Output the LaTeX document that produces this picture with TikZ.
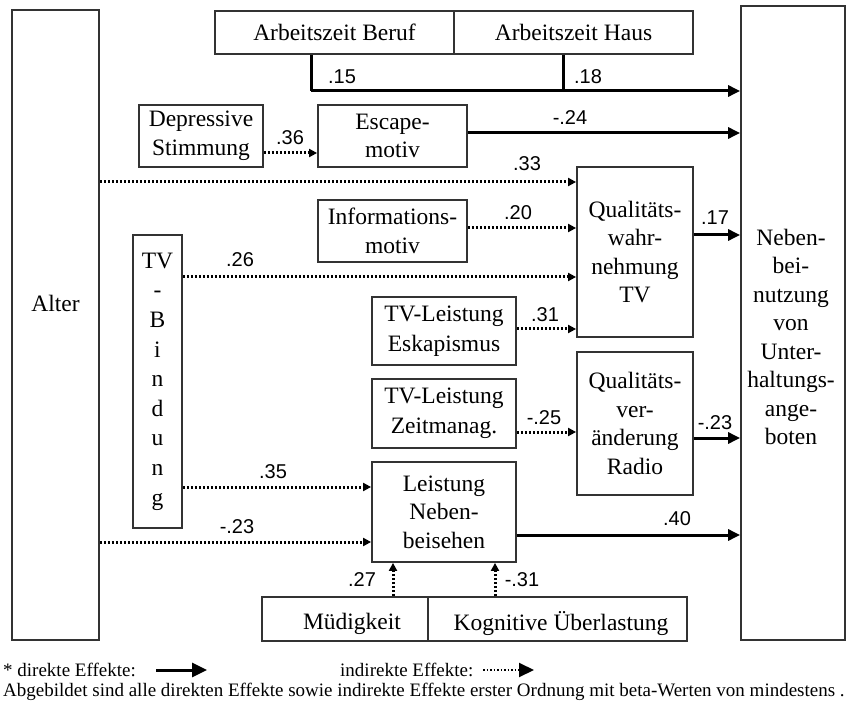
\documentclass[tikz,border=0pt]{standalone}
\usepackage{fontspec}
\setmainfont{Liberation Serif}
\newfontfamily\numfont{Liberation Sans}
\usetikzlibrary{arrows.meta}
\tikzset{
  box/.style={draw=black!80, line width=1.8pt, inner sep=0pt, align=center,
    font=\fontsize{23.5}{28.5}\selectfont},
  txt/.style={inner sep=0pt, align=center, font=\fontsize{23.5}{28.5}\selectfont},
  num/.style={inner sep=0pt, font=\numfont\fontsize{20}{22}\selectfont},
  direct/.style={line width=3pt, black, -{Triangle[length=12pt,width=11pt]}},
  thickline/.style={line width=3pt, black},
  indirect/.style={line width=3pt, black, dash pattern=on 2pt off 2pt,
    -{Triangle[length=8pt,width=8pt]}},
  legtxt/.style={inner sep=0pt, anchor=west, font=\fontsize{19}{20}\selectfont},
}
\begin{document}
\begin{tikzpicture}[x=1pt,y=-1pt]
\useasboundingbox (0,0) rectangle (846,703);
% boxes
\node[box, minimum width=87pt, minimum height=630pt] (alter) at (55.5,325) {};
\node[txt] (alterT) at (55.5,303) {Alter};
\node[box, minimum width=104pt, minimum height=634pt] (neben) at (793,323) {};
\node[txt] (nebenT) at (791,337) {Neben-\\bei-\\nutzung\\von\\Unter-\\haltungs-\\ange-\\boten};
\node[box, minimum width=239pt, minimum height=43pt] (beruf) at (334.5,32.5) {Arbeitszeit Beruf};
\node[box, minimum width=239pt, minimum height=43pt] (haus) at (573.5,32.5) {Arbeitszeit Haus};
\node[box, minimum width=124pt, minimum height=62pt] (depr) at (201,136) {Depressive\\Stimmung};
\node[box, minimum width=149pt, minimum height=62pt] (escape) at (392.5,136) {Escape-\\motiv};
\node[box, minimum width=149pt, minimum height=62pt] (info) at (392.5,231) {Informations-\\motiv};
\node[box, minimum width=116pt, minimum height=170pt] (qwtv) at (635,252) {Qualitäts-\\wahr-\\nehmung\\TV};
\node[box, minimum width=49pt, minimum height=293pt, font=\fontsize{23.5}{29.6}\selectfont] (bind) at (157.5,381.5) {TV\\-\\B\\i\\n\\d\\u\\n\\g};
\node[box, minimum width=144pt, minimum height=68pt, font=\fontsize{23.5}{30.5}\selectfont] (eska) at (444,331) {TV-Leistung\\Eskapismus};
\node[box, minimum width=144pt, minimum height=69pt, font=\fontsize{23.5}{30}\selectfont] (zeit) at (444,413.5) {TV-Leistung\\Zeitmanag.};
\node[box, minimum width=116pt, minimum height=143pt] (qvr) at (635,423.5) {Qualitäts-\\ver-\\änderung\\Radio};
\node[box, minimum width=144pt, minimum height=100pt] (nebs) at (444,512) {Leistung\\Neben-\\beisehen};
\node[box, minimum width=166pt, minimum height=44pt] (muede) at (345,619) {};
\node[txt] (muedeT) at (352,624) {Müdigkeit};
\node[box, minimum width=259pt, minimum height=44pt] (kogn) at (557.5,619) {};
\node[txt] (kognT) at (561,624) {Kognitive Überlastung};
% junctions
\coordinate (jb) at (311,91);
\coordinate (jh) at (563,91);
% connectors
\draw[thickline] (beruf.south -| jb) -- (jb);
\draw[direct] (jb) -- (jb -| neben.west);
\draw[thickline] (haus.south -| jh) -- (jh);
\draw[indirect] (depr.east |- 0,153) -- (escape.west |- 0,153);
\draw[direct] (escape.east |- 0,133) -- (neben.west |- 0,133);
\draw[indirect] (alter.east |- 0,182) -- (qwtv.west |- 0,182);
\draw[indirect] (info.east |- 0,228) -- (qwtv.west |- 0,228);
\draw[indirect] (bind.east |- 0,277) -- (qwtv.west |- 0,277);
\draw[indirect] (eska.east |- 0,329) -- (qwtv.west |- 0,329);
\draw[direct] (qwtv.east |- 0,235) -- (neben.west |- 0,235);
\draw[indirect] (zeit.east |- 0,432) -- (qvr.west |- 0,432);
\draw[direct] (qvr.east |- 0,438) -- (neben.west |- 0,438);
\draw[indirect] (bind.east |- 0,487) -- (nebs.west |- 0,487);
\draw[indirect] (alter.east |- 0,542) -- (nebs.west |- 0,542);
\draw[direct] (nebs.east |- 0,535) -- (neben.west |- 0,535);
\draw[indirect] (muede.north -| 393,0) -- (nebs.south -| 393,0);
\draw[indirect] (kogn.north -| 495,0) -- (nebs.south -| 495,0);
% labels
\node[num] (l15) at (342,77) {.15};
\node[num] (l18) at (588,77) {.18};
\node[num] (l36) at (290,138) {.36};
\node[num] (l24) at (570,118) {-.24};
\node[num] (l33) at (527,164) {.33};
\node[num] (l20) at (518,213) {.20};
\node[num] (l17) at (715,218) {.17};
\node[num] (l26) at (240,260) {.26};
\node[num] (l31) at (545,315) {.31};
\node[num] (l25) at (544,418) {-.25};
\node[num] (l23a) at (715,423) {-.23};
\node[num] (l35) at (273,472) {.35};
\node[num] (l23b) at (237,527) {-.23};
\node[num] (l40) at (677,519) {.40};
\node[num] (l27) at (362,580) {.27};
\node[num] (l31b) at (522,580) {-.31};
% legend
\node[legtxt] (leg1) at (3,670) {* direkte Effekte:};
\coordinate (la1) at (156,670);
\coordinate (la2) at (207,670);
\draw[line width=3pt, -{Triangle[length=15pt,width=14pt]}] (la1) -- (la2);
\node[legtxt] (leg2) at (340,670) {indirekte Effekte:};
\coordinate (lb1) at (483,670);
\coordinate (lb2) at (534,670);
\draw[line width=2pt, dash pattern=on 1.6pt off 1.9pt, -{Triangle[length=15pt,width=14pt]}] (lb1) -- (lb2);
\node[legtxt] (leg3) at (3,692) {Abgebildet sind alle direkten Effekte sowie indirekte Effekte erster Ordnung mit beta-Werten von mindestens .};
\end{tikzpicture}
\end{document}
